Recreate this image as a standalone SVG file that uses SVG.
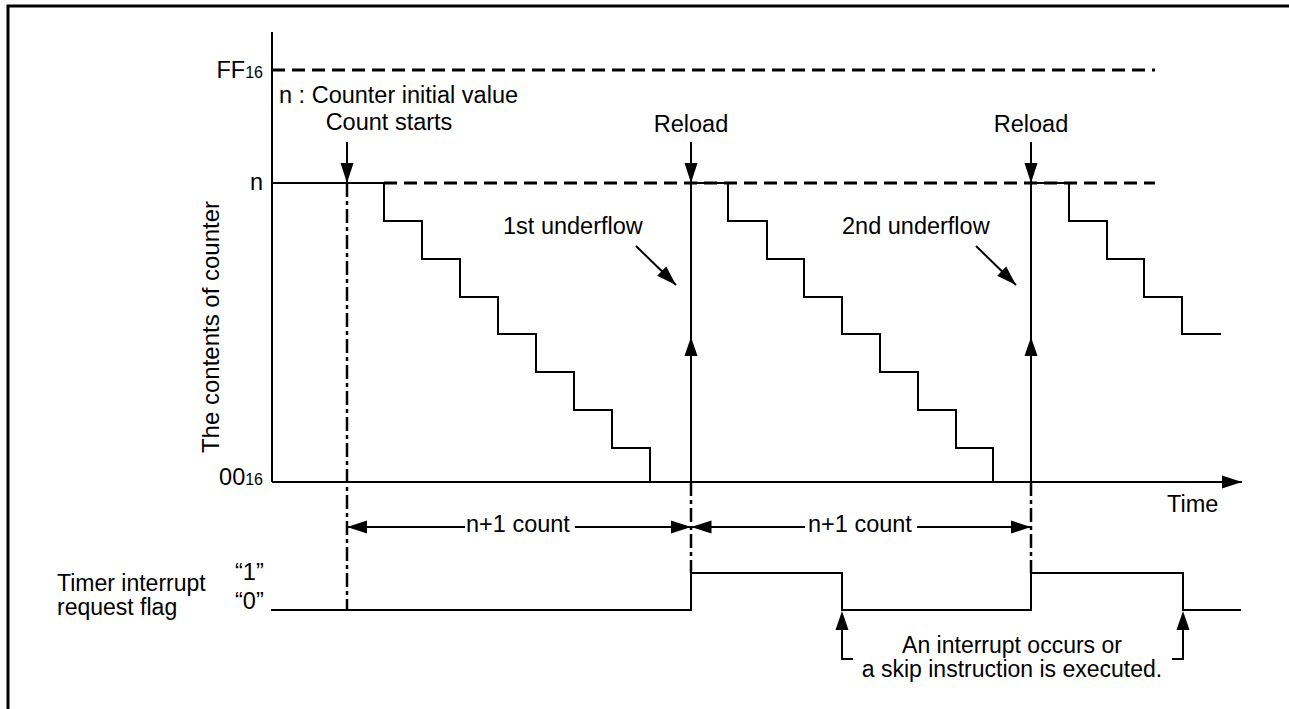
<svg xmlns="http://www.w3.org/2000/svg" width="1289" height="709" viewBox="0 0 1289 709">
<defs>
<style>
text{font-family:"Liberation Sans",Arial,sans-serif;font-size:23.5px;fill:#000}
.s{fill:none;stroke:#000;stroke-width:2}
.d{fill:none;stroke:#000;stroke-width:3;stroke-dasharray:13 7}
.dd{fill:none;stroke:#000;stroke-width:2.5;stroke-dasharray:14 4 4 4}
.a{fill:none;stroke:#000;stroke-width:2;marker-end:url(#ah)}
.m{fill:#000}
.sub{font-size:16px}
.st{font-size:23px}
</style>
<marker id="ah" markerUnits="userSpaceOnUse" markerWidth="20" markerHeight="14" refX="20" refY="6.5" orient="auto" viewBox="0 0 20 13">
<path d="M0,0 L20,6.5 L0,13 z" fill="#000"/>
</marker>
</defs>
<rect width="1289" height="709" fill="#fff"/>
<path d="M8,709 V6 H1289" fill="none" stroke="#000" stroke-width="3"/>

<g id="axes">
<line class="s" x1="272" y1="32" x2="272" y2="482"/>
<line class="a" x1="272" y1="482" x2="1242" y2="482"/>
<text x="263" y="78" text-anchor="end">FF<tspan class="sub">16</tspan></text>
<text x="263" y="190" text-anchor="end">n</text>
<text x="263" y="485" text-anchor="end">00<tspan class="sub">16</tspan></text>
<text x="1167" y="512">Time</text>
<text transform="translate(219,327) rotate(-90)" text-anchor="middle" style="font-size:24px">The contents of counter</text>
</g>

<g id="reference-lines">
<line class="d" x1="272" y1="70" x2="1155" y2="70"/>
<line class="d" x1="384" y1="183" x2="1155" y2="183"/>
<text x="279" y="103">n : Counter initial value</text>
</g>

<g id="counter">
<path class="s" d="M272,183 H384 V221 H422 V259 H460 V297 H498 V334 H536 V372 H574 V410 H612 V448 H650 V482"/>
<path class="s" d="M691,183 H728 V221 H767 V259 H804 V297 H842 V334 H880 V372 H918 V410 H956 V448 H993 V482"/>
<path class="s" d="M1031,183 H1069 V221 H1107 V259 H1144 V297 H1182 V334 H1221"/>
</g>

<g id="count-start">
<text x="389" y="130" text-anchor="middle">Count starts</text>
<line class="a" x1="347" y1="142" x2="347" y2="183"/>
<line class="dd" x1="347" y1="183" x2="347" y2="610"/>
</g>

<g id="reload-1">
<text x="691" y="132" text-anchor="middle">Reload</text>
<line class="a" x1="691" y1="142" x2="691" y2="183"/>
<line class="s" x1="691" y1="183" x2="691" y2="482"/>
<polygon class="m" points="691,337 684.5,356 697.5,356"/>
<line class="dd" x1="691" y1="482" x2="691" y2="573"/>
<text x="503" y="234">1st underflow</text>
<line class="a" x1="636" y1="246" x2="676" y2="285"/>
</g>

<g id="reload-2">
<text x="1031" y="132" text-anchor="middle">Reload</text>
<line class="a" x1="1031" y1="142" x2="1031" y2="183"/>
<line class="s" x1="1031" y1="183" x2="1031" y2="482"/>
<polygon class="m" points="1031,337 1024.5,356 1037.5,356"/>
<line class="dd" x1="1031" y1="482" x2="1031" y2="573"/>
<text x="842" y="234">2nd underflow</text>
<line class="a" x1="976" y1="246" x2="1016" y2="285"/>
</g>

<g id="count-intervals">
<line class="a" x1="465" y1="527" x2="347" y2="527"/>
<text x="466" y="532">n+1 count</text>
<line class="a" x1="575" y1="527" x2="691" y2="527"/>
<line class="a" x1="805" y1="527" x2="691.5" y2="527"/>
<text x="808" y="532">n+1 count</text>
<line class="a" x1="917" y1="527" x2="1031" y2="527"/>
</g>

<g id="flag">
<text class="st" x="57" y="591">Timer interrupt</text>
<text class="st" x="57" y="615">request flag</text>
<text x="235" y="580">“1”</text>
<text x="235" y="609">“0”</text>
<path class="s" d="M271,610 H691 V573 H842 V610 H1031 V573 H1183 V610 H1241"/>
</g>

<g id="interrupt-note">
<path class="s" d="M853,659 H842 V630"/>
<polygon class="m" points="842,611 835.5,630 848.5,630"/>
<path class="s" d="M1172,659 H1183 V630"/>
<polygon class="m" points="1183,611 1176.5,630 1189.5,630"/>
<text class="st" x="1012" y="653" text-anchor="middle">An interrupt occurs or</text>
<text class="st" x="1012" y="677" text-anchor="middle">a skip instruction is executed.</text>
</g>
</svg>
